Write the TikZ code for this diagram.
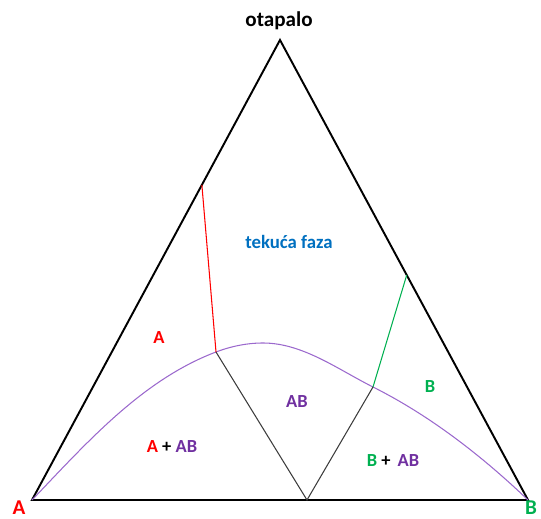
\documentclass[tikz,border=0pt]{standalone}
\usepackage{fontspec}
\setmainfont{Carlito}
\usetikzlibrary{calc}
\definecolor{grn}{RGB}{0,176,80}
\definecolor{purp}{RGB}{112,48,160}
\definecolor{lilac}{RGB}{155,105,205}
\definecolor{blu}{RGB}{0,112,192}
\definecolor{tie}{RGB}{60,60,60}

\begin{document}
\begin{tikzpicture}[x=0.02cm,y=-0.02cm,line width=.6pt,font=\bfseries,
  lbl/.style={inner sep=0pt,anchor=center}]
\useasboundingbox (0,0) rectangle (541,519);
% vertices
\coordinate (A) at (32,500);
\coordinate (B) at (528,500);
\coordinate (O) at (280,40);
\coordinate (Rt) at ($(A)!0.685!(O)$);
\coordinate (Gt) at ($(O)!0.511!(B)$);
\coordinate (E1) at (216,352);
\coordinate (E2) at (373,387);
\coordinate (Pk) at (263,343);
\coordinate (M) at (307,500);
% triangle
\draw[line width=1.1pt] (A)--(B)--(O)--cycle;
% solubility curve
\draw[lilac] (A) .. controls (86.5,443) and (142,380) .. (E1)
  .. controls (231,346.3) and (247,343) .. (Pk)
  .. controls (302.5,343) and (337.7,369.3) .. (E2)
  .. controls (430,415.6) and (482,456) .. (B);
% tie lines
\draw[red] (Rt)--(E1);
\draw[grn] (Gt)--(E2);
\draw[tie] (E1)--(M)--(E2);
% labels
\node[lbl,font=\bfseries\fontsize{12}{14}\selectfont] (otap) at (279,21) {otapalo};
\node[lbl,blu,font=\bfseries\fontsize{10.7}{13}\selectfont] (liq) at (289,242) {tekuća faza};
\node[lbl,red,font=\bfseries\fontsize{10.5}{12}\selectfont] (la) at (159,338) {A};
\node[lbl,grn,font=\bfseries\fontsize{10.5}{12}\selectfont] (lb) at (430,387) {B};
\node[lbl,purp,font=\bfseries\fontsize{10.5}{12}\selectfont] (lab) at (297,402) {AB};
\node[lbl,font=\bfseries\fontsize{10.5}{12}\selectfont] (laab) at (172,447) {{\color{red}A} + {\color{purp}AB}};
\node[lbl,font=\bfseries\fontsize{10.5}{12}\selectfont] (lbab) at (393,461) {{\color{grn}B} + \,{\color{purp}AB}};
\node[lbl,red,font=\bfseries\fontsize{12}{14}\selectfont] (va) at (19,508) {A};
\node[lbl,grn,font=\bfseries\fontsize{12}{14}\selectfont] (vb) at (531,508) {B};
\end{tikzpicture}
\end{document}
